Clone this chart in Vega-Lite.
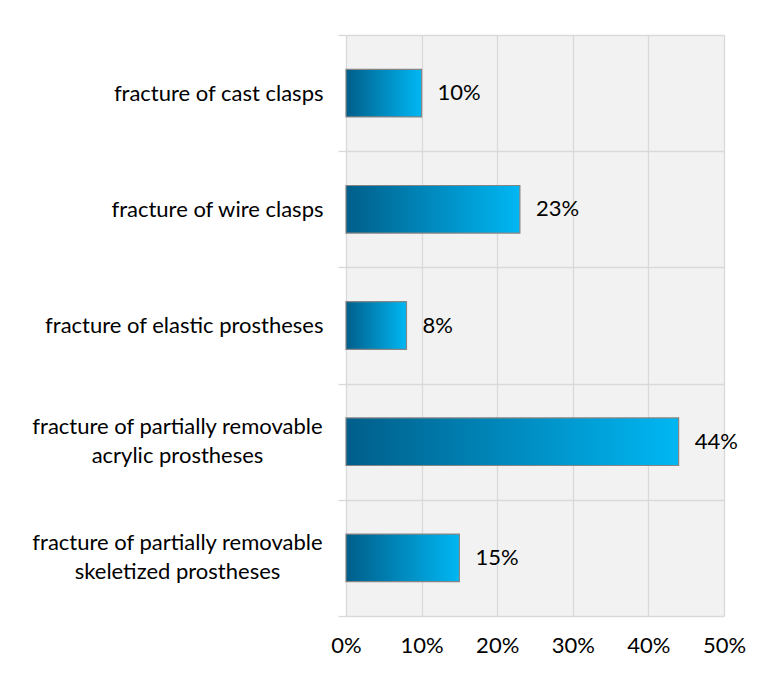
{
  "$schema": "https://vega.github.io/schema/vega-lite/v6.json",
  "width": 378,
  "height": 581,
  "autosize": {"type": "none"},
  "padding": {"left": 346, "top": 35, "right": 40, "bottom": 59},
  "background": "#ffffff",
  "config": {
    "font": "Lato",
    "view": {"fill": "#f2f2f2", "stroke": null}
  },
  "data": {
    "values": [
      {"cause": "fracture of cast clasps", "share": 0.10},
      {"cause": "fracture of wire clasps", "share": 0.23},
      {"cause": "fracture of elastic prostheses", "share": 0.08},
      {"cause": "fracture of partially removable|acrylic prostheses", "share": 0.44},
      {"cause": "fracture of partially removable|skeletized prostheses", "share": 0.15}
    ]
  },
  "encoding": {
    "x": {
      "field": "share",
      "type": "quantitative",
      "title": null,
      "scale": {"domain": [0, 0.5], "nice": false},
      "axis": {
        "values": [0, 0.1, 0.2, 0.3, 0.4, 0.5],
        "format": ".0%",
        "grid": true,
        "gridColor": "#d9d9d9",
        "gridWidth": 1.3,
        "ticks": false,
        "tickSize": 0,
        "domain": false,
        "labelPadding": 19,
        "labelFont": "Lato",
        "labelFontSize": 22,
        "labelColor": "#000000",
        "labelFlush": false,
        "labelOverlap": false
      }
    }
  },
  "layer": [
    {
      "mark": {
        "type": "bar",
        "height": {"band": 0.41},
        "fill": {
          "gradient": "linear",
          "x1": 0, "y1": 0, "x2": 1, "y2": 0,
          "stops": [
            {"offset": 0, "color": "#005e8a"},
            {"offset": 1, "color": "#00b7f3"}
          ]
        },
        "stroke": "#858585",
        "strokeWidth": 1.2
      },
      "encoding": {
        "y": {
          "field": "cause",
          "type": "nominal",
          "sort": null,
          "title": null,
          "scale": {"paddingInner": 0, "paddingOuter": 0},
          "axis": {
            "orient": "left",
            "tickBand": "extent",
            "grid": true,
            "gridColor": "#d9d9d9",
            "gridWidth": 1.3,
            "ticks": true,
            "tickSize": 8,
            "tickColor": "#d9d9d9",
            "tickWidth": 1.3,
            "domain": false,
            "labelPadding": 15,
            "labelFont": "Lato",
            "labelFontSize": 22,
            "labelColor": "#000000",
            "labelLimit": 400,
            "labelOverlap": false,
            "labelExpr": "indexof(datum.label, '|') < 0 ? datum.label : ''"
          }
        }
      }
    },
    {
      "mark": {
        "type": "text",
        "align": "left",
        "baseline": "middle",
        "dx": 16,
        "font": "Lato",
        "fontSize": 22,
        "color": "#000000"
      },
      "encoding": {
        "y": {
          "field": "cause",
          "type": "nominal",
          "sort": null,
          "title": null,
          "axis": {
            "orient": "left",
            "grid": false,
            "ticks": false,
            "tickSize": 0,
            "domain": false,
            "labelAlign": "center",
            "labelPadding": 169,
            "labelOffset": -15,
            "labelFont": "Lato",
            "labelFontSize": 22,
            "labelLineHeight": 29,
            "labelColor": "#000000",
            "labelLimit": 400,
            "labelOverlap": false,
            "labelExpr": "indexof(datum.label, '|') >= 0 ? split(datum.label, '|') : ''"
          }
        },
        "text": {"field": "share", "type": "quantitative", "format": ".0%"}
      }
    }
  ],
  "resolve": {"axis": {"y": "independent"}}
}
